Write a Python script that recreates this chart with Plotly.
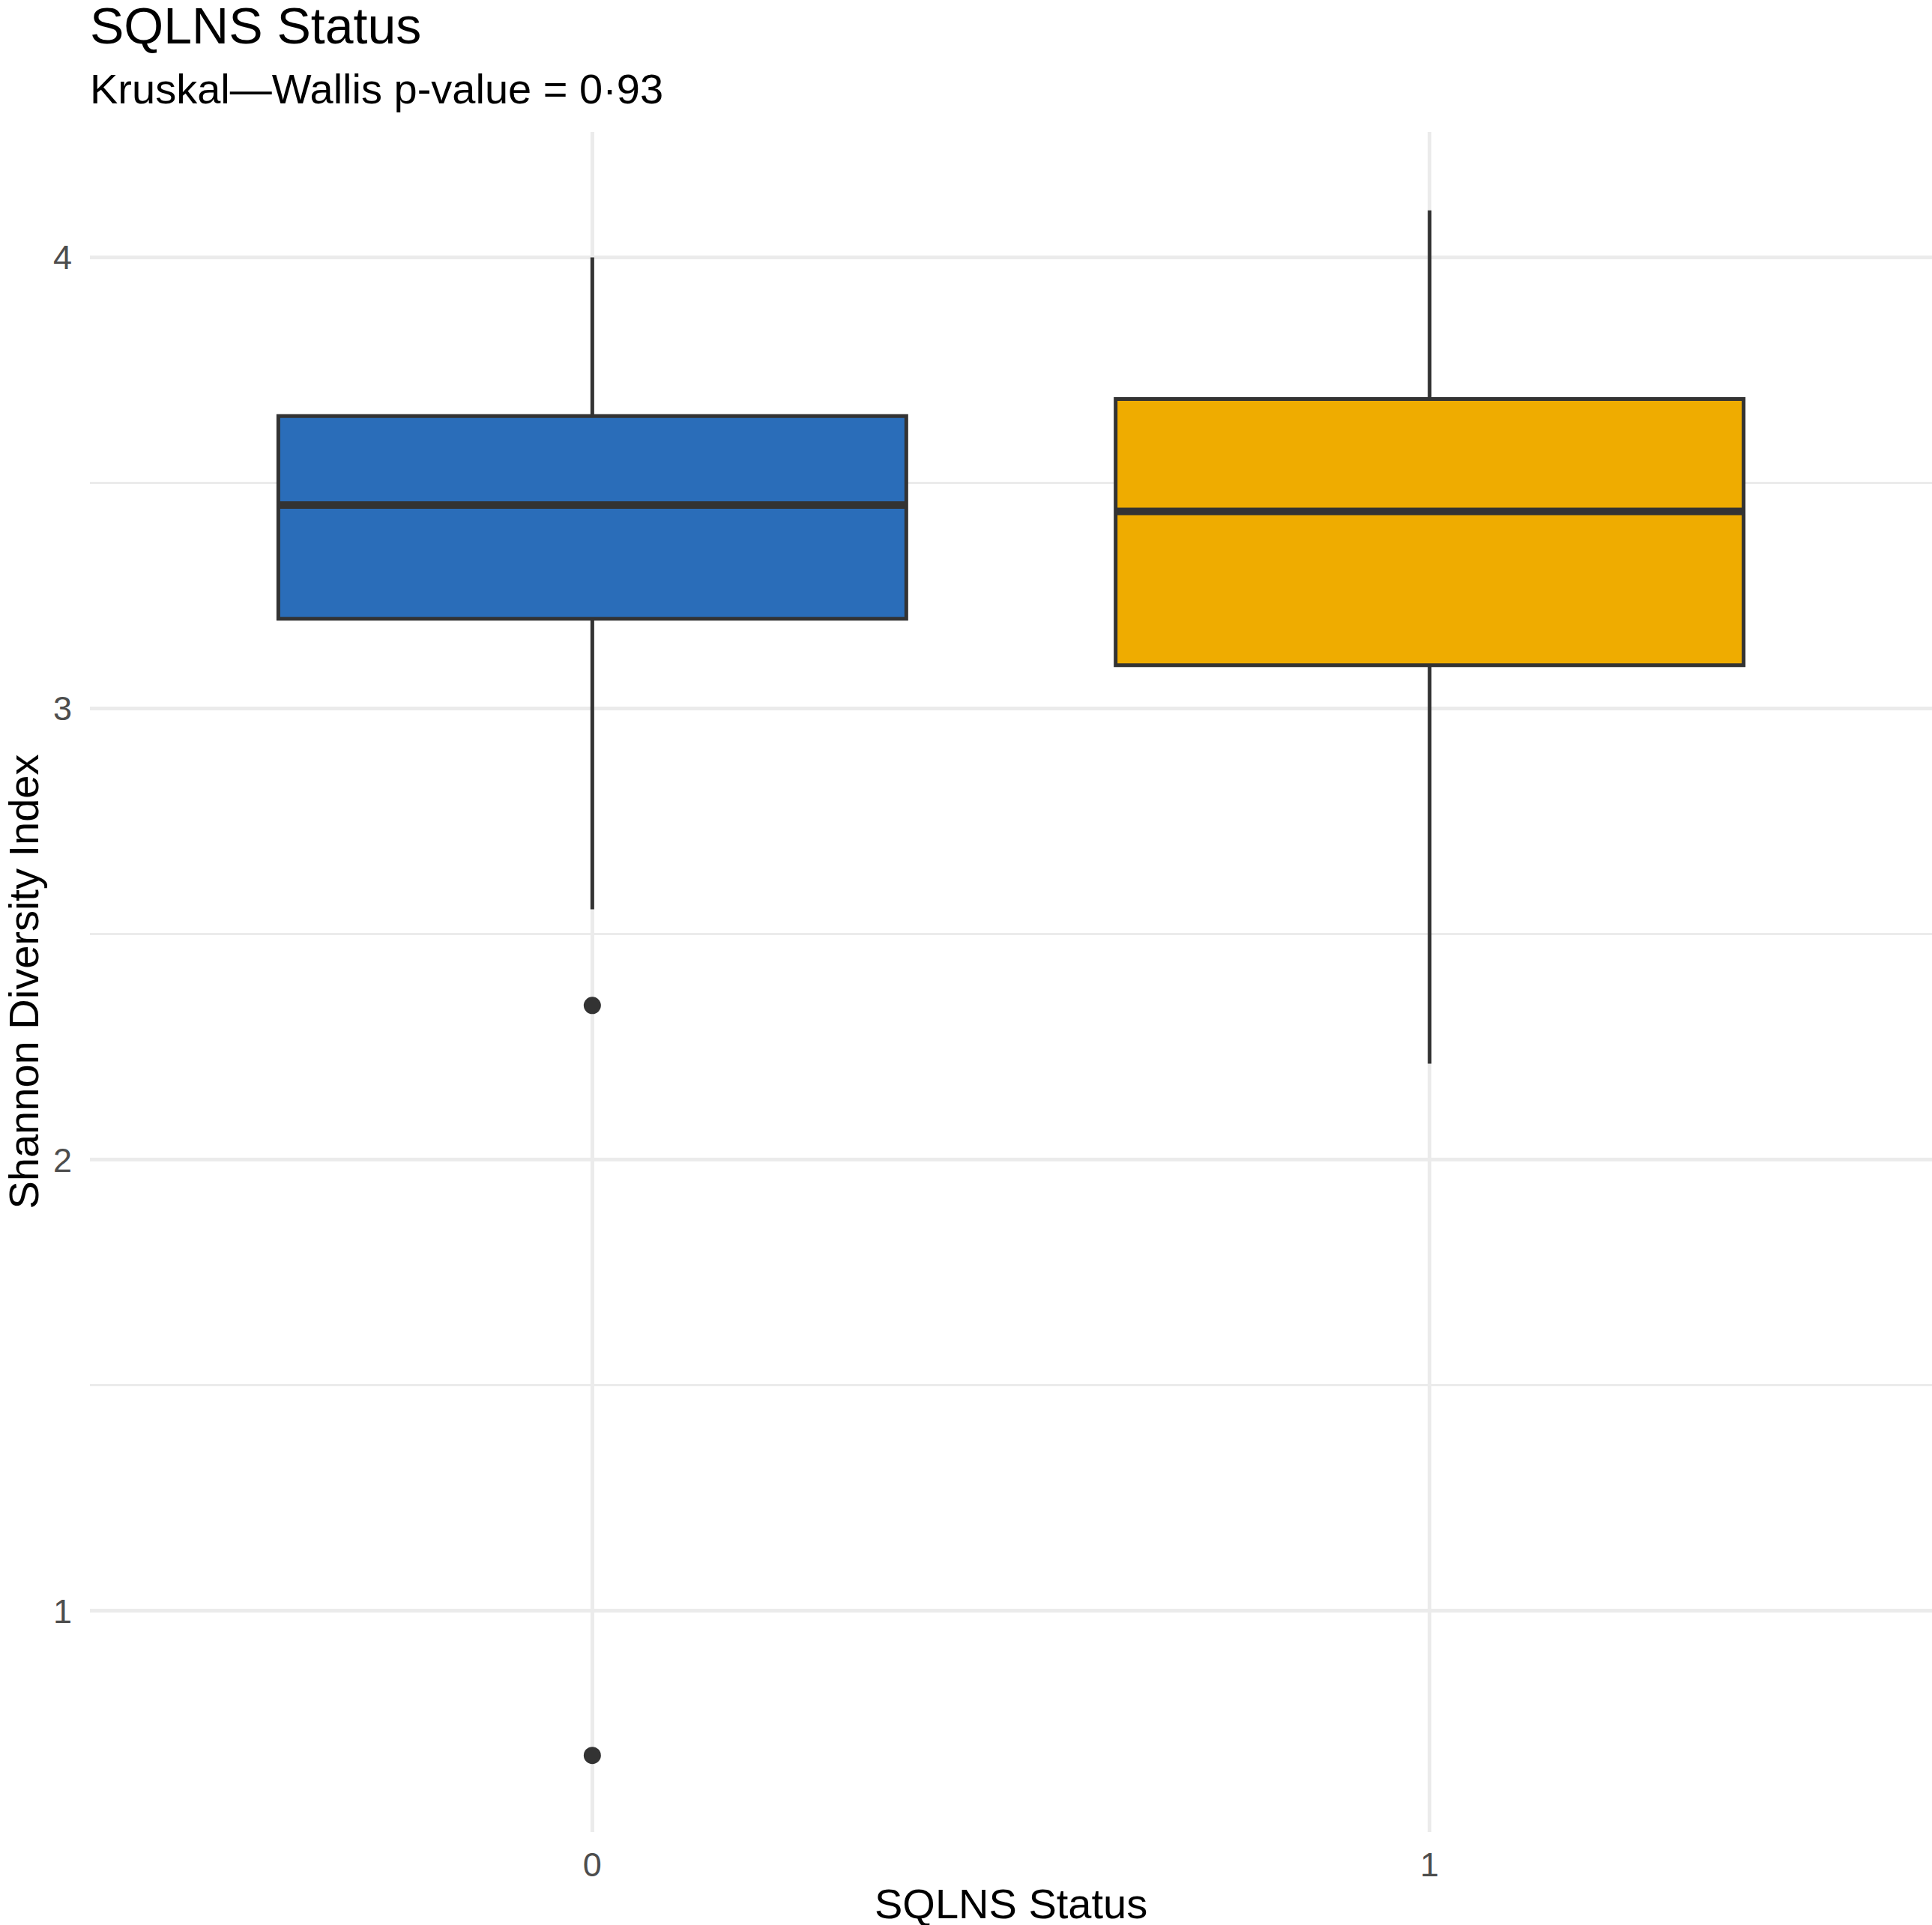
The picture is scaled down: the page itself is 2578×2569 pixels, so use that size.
import plotly.graph_objects as go

# Data
groups = [0, 1]
group_labels = ["0", "1"]
q1 = [3.199, 3.096]
median = [3.451, 3.437]
q3 = [3.648, 3.686]
lower_whisker = [2.555, 2.213]
upper_whisker = [4.000, 4.104]
outlier_group = [0, 0]
outlier_values = [2.342, 0.680]
fill_colors = ["#2A6DB9", "#EFAC00"]

BOX_W = 0.75
LINE = "#333333"
FONT = "Liberation Sans, Arial, Helvetica, sans-serif"

fig = go.Figure()

for i, g in enumerate(groups):
    fig.add_trace(go.Box(
        x=[g], q1=[q1[i]], median=[median[i]], q3=[q3[i]],
        lowerfence=[lower_whisker[i]], upperfence=[upper_whisker[i]],
        width=BOX_W, fillcolor=fill_colors[i],
        line=dict(color=LINE, width=5), whiskerwidth=0,
        boxpoints=False, showlegend=False, hoverinfo="skip",
    ))
    # thicker median line (ggplot-style)
    fig.add_trace(go.Scatter(
        x=[g - BOX_W / 2, g + BOX_W / 2], y=[median[i], median[i]],
        mode="lines", line=dict(color=LINE, width=10),
        showlegend=False, hoverinfo="skip",
    ))

fig.add_trace(go.Scatter(
    x=outlier_group, y=outlier_values, mode="markers",
    marker=dict(color=LINE, size=23, line=dict(width=0)),
    showlegend=False, hoverinfo="skip",
))

fig.update_layout(
    width=2578, height=2569,
    margin=dict(l=120, r=0, t=176, b=124),
    paper_bgcolor="white", plot_bgcolor="white",
    font=dict(family=FONT, color="black"),
    showlegend=False,
)

fig.update_xaxes(
    range=[-0.6, 1.6], tickvals=groups, ticktext=group_labels,
    showgrid=True, gridcolor="#EBEBEB", gridwidth=5,
    zeroline=False, showline=False, ticks="",
    tickfont=dict(size=45, color="#4D4D4D", family=FONT),
    ticklabelstandoff=13,
)
fig.update_yaxes(
    range=[0.51, 4.278], tickvals=[1, 2, 3, 4], ticktext=["1", "2", "3", "4"],
    showgrid=True, gridcolor="#EBEBEB", gridwidth=5,
    minor=dict(tickvals=[1.5, 2.5, 3.5], showgrid=True, gridcolor="#EBEBEB", gridwidth=3, ticks=""),
    zeroline=False, showline=False, ticks="",
    tickfont=dict(size=45, color="#4D4D4D", family=FONT),
    ticklabelstandoff=23,
)

# axis titles
fig.add_annotation(
    text="SQLNS Status", xref="paper", yref="paper", x=0.5, y=-0.0419,
    xanchor="center", yanchor="middle", showarrow=False,
    font=dict(size=56, color="black", family=FONT),
)
fig.add_annotation(
    text="Shannon Diversity Index", xref="paper", yref="paper", x=-0.0362, y=0.5,
    xanchor="center", yanchor="middle", textangle=-90, showarrow=False,
    font=dict(size=56, color="black", family=FONT),
)

# title & subtitle
fig.add_annotation(
    text="SQLNS Status", xref="paper", yref="paper", x=0, y=1.0625,
    xanchor="left", yanchor="middle", xshift=-2, showarrow=False,
    font=dict(size=68, color="black", family=FONT),
)
fig.add_annotation(
    text="Kruskal\u2014Wallis p-value = 0\u00b793", xref="paper", yref="paper", x=0, y=1.0255,
    xanchor="left", yanchor="middle", xshift=-2, showarrow=False,
    font=dict(size=56, color="black", family=FONT),
)

fig.write_html("out.html")
